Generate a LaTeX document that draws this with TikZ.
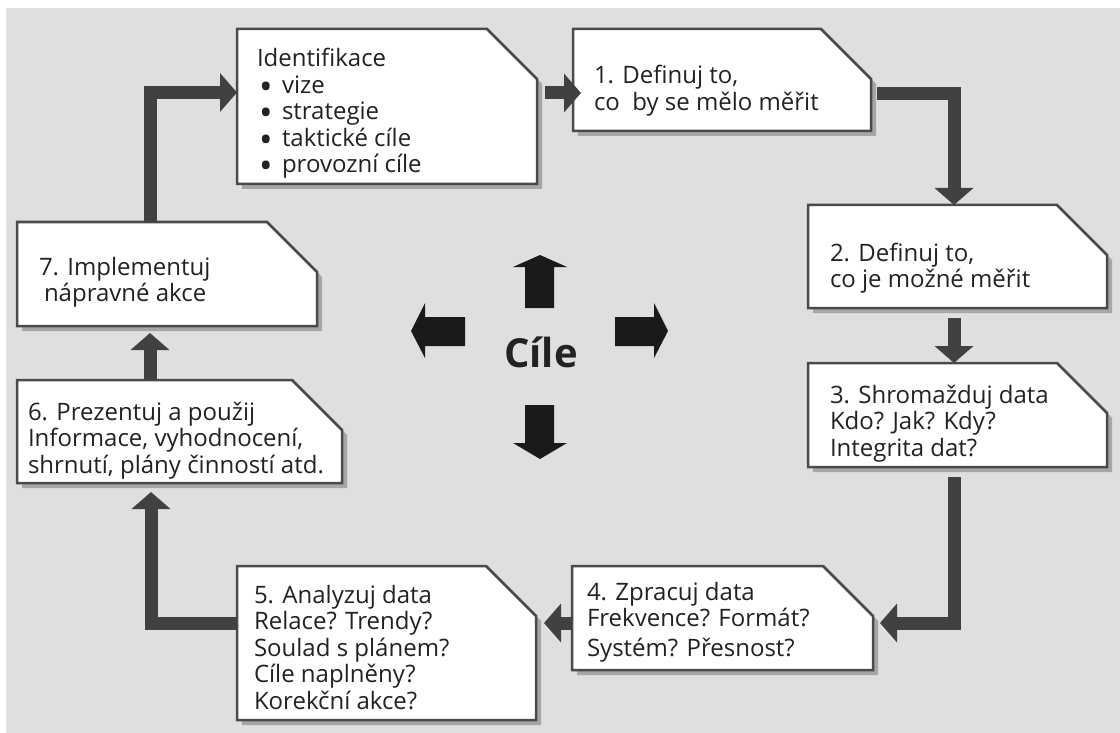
\documentclass[tikz,border=0pt]{standalone}
\usepackage{fontspec}
\setmainfont{Open Sans}
\usetikzlibrary{arrows.meta,calc}
\definecolor{bgc}{HTML}{DFDFDF}
\definecolor{edgec}{HTML}{4A4A4A}
\definecolor{shadec}{HTML}{A6A6A6}
\definecolor{conc}{HTML}{414141}
\definecolor{txtc}{HTML}{222222}
\definecolor{blkc}{HTML}{1A1A1A}
\pgfdeclarelayer{bg}
\pgfsetlayers{bg,main}
\newcommand\lines[1]{\begin{tabular}[t]{@{}l@{}}#1\end{tabular}}
\newcommand\bul{\hspace*{2pt}\makebox[23pt][l]{\raisebox{-6pt}[0pt][0pt]{\scalebox{1.5}{•}}}}
\tikzset{
  boxnode/.style={rectangle, draw=none, inner sep=0pt, outer sep=0pt},
  boxline/.style={draw=edgec, fill=white, line width=2.5pt, line join=miter},
  shadowfill/.style={fill=shadec},
  txt/.style={inner sep=0pt, outer sep=0pt, text=txtc, font=\fontsize{24}{26.5}\selectfont},
  conn/.style={draw=conc, line width=13pt, -{Triangle[width=38pt,length=17pt]}},
  bigarrow/.style={fill=blkc}
}
\newcommand\cutbox[5]{%
  \node[boxnode, minimum width=#4pt, minimum height=#5pt] (#1) at (#2,#3) {};
  \begin{pgfonlayer}{bg}
    \fill[shadowfill] ([shift={(5pt,-5pt)}]#1.south west) -- ([shift={(5pt,-5pt)}]#1.north west)
      -- ([shift={(-45pt,-5pt)}]#1.north east) -- ([shift={(5pt,-55pt)}]#1.north east)
      -- ([shift={(5pt,-5pt)}]#1.south east) -- cycle;
    \filldraw[boxline] (#1.south west) -- (#1.north west) -- ([xshift=-50pt]#1.north east)
      -- ([yshift=-50pt]#1.north east) -- (#1.south east) -- cycle;
  \end{pgfonlayer}}
\begin{document}
\begin{tikzpicture}[x=1pt,y=-1pt]
\useasboundingbox (0,0) rectangle (1120,733);
\begin{pgfonlayer}{bg}
  \fill[white] (0,0) rectangle (1120,733);
  \fill[bgc] (6,8) rectangle (1120,733);
\end{pgfonlayer}

% boxes
\cutbox{id}{387}{106.5}{300}{155}
\cutbox{b1}{722}{80}{298}{102}
\cutbox{b2}{957.5}{256.5}{299}{103}
\cutbox{b3}{957.5}{415}{299}{104}
\cutbox{b4}{722.5}{618}{301}{104}
\cutbox{b5}{386.5}{643}{299}{154}
\cutbox{b6}{179.5}{431.5}{325}{103}
\cutbox{b7}{167}{274}{300}{104}

% texts
\node[txt, anchor=base west] (tid) at (257,67) {\lines{Identifikace\\\bul vize\\\bul strategie\\\bul taktické cíle\\\bul provozní cíle}};
\node[txt, anchor=base west] (t1) at (594,84) {\lines{1. Definuj to,\\co\ \ by se mělo měřit}};
\node[txt, anchor=base west] (t2) at (830,261) {\lines{2. Definuj to,\\co je možné měřit}};
\node[txt, anchor=base west] (t3) at (830,403) {\lines{3. Shromažduj data\\Kdo? Jak? Kdy?\\Integrita dat?}};
\node[txt, anchor=base west] (t4) at (587,600) {\lines{4. Zpracuj data\\Frekvence? Formát?\\[3pt]Systém? Přesnost?}};
\node[txt, anchor=base west] (t5) at (254,603) {\lines{5. Analyzuj data\\Relace? Trendy?\\Soulad s plánem?\\Cíle naplněny?\\Korekční akce?}};
\node[txt, anchor=base west] (t6) at (28,420) {\lines{6. Prezentuj a použij\\Informace, vyhodnocení,\\shrnutí, plány činností atd.}};
\node[txt, anchor=base west] (t7) at (39,275) {\lines{7. Implementuj\\\hspace*{5pt}nápravné akce}};

% connectors
\draw[conn] ([xshift=-17pt]b7.north) |- ([yshift=14pt]id.west);
\draw[conn] ([xshift=8pt,yshift=13.5pt]id.east) -- ([xshift=8pt,yshift=13.5pt]id.east -| b1.west);
\draw[conn] ([xshift=6pt,yshift=-14pt]b1.east) -| ([xshift=-3.5pt]b2.north);
\draw[conn] ([xshift=-3.5pt,yshift=-10pt]b2.south) -- ([xshift=-3.5pt]b3.north);
\draw[conn] ([xshift=-3.5pt,yshift=-10pt]b3.south) |- ([xshift=7pt,yshift=-5pt]b4.east);
\draw[conn] ([yshift=-5pt]b4.west) -- ([xshift=8pt,yshift=-5pt]b4.west -| b5.east);
\draw[conn] ([yshift=20pt]b5.west) -| ([xshift=-28.5pt,yshift=-9pt]b6.south);
\draw[conn] ([xshift=-29.5pt]b6.north) -- ([xshift=-29.5pt,yshift=-7pt]b6.north |- b7.south);

% centre
\node[text=txtc, font=\fontsize{40}{46}\selectfont\bfseries] (cile) at (541,352) {Cíle};
\fill[bigarrow] (525,308) -- (525,267) -- (513,267) -- (540,255) -- (567,267) -- (554,267) -- (554,308) -- cycle;
\fill[bigarrow] (525,405) -- (525,443) -- (513,443) -- (540,459) -- (567,443) -- (554,443) -- (554,405) -- cycle;
\fill[bigarrow] (465,317) -- (425,317) -- (425,303) -- (411,331) -- (425,358) -- (425,346) -- (465,346) -- cycle;
\fill[bigarrow] (615,317) -- (654,317) -- (654,303) -- (668,331) -- (654,358) -- (654,346) -- (615,346) -- cycle;
\end{tikzpicture}
\end{document}
